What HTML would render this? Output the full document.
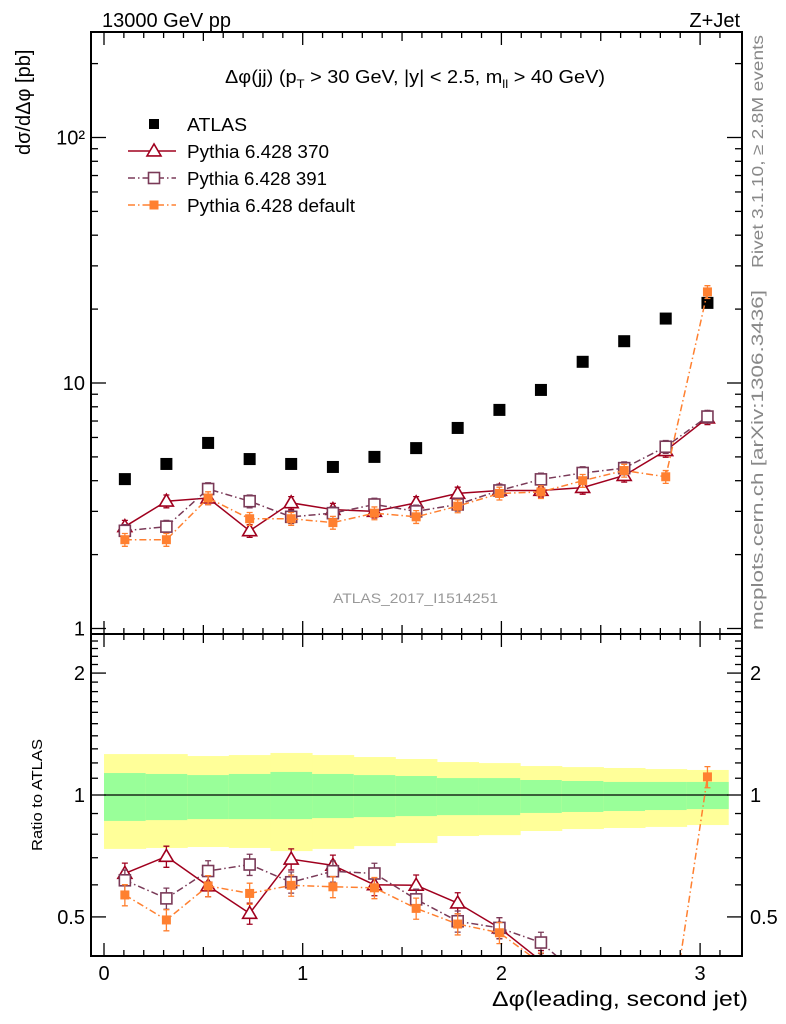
<!DOCTYPE html>
<html><head><meta charset="utf-8">
<style>
html,body{margin:0;padding:0;background:#fff;}
svg{display:block;font-family:"Liberation Sans",sans-serif;}
</style></head>
<body>
<svg id="chart" width="786" height="1024" viewBox="0 0 786 1024" xmlns="http://www.w3.org/2000/svg">
<text x="102" y="27" font-size="20">13000 GeV pp</text>
<text x="740" y="27" font-size="20" text-anchor="end">Z+Jet</text>
<text x="225" y="83" font-size="18" textLength="380" lengthAdjust="spacingAndGlyphs">Δφ(jj) (p<tspan font-size="12" dy="5">T</tspan><tspan dy="-5"> &gt; 30 GeV, |y| &lt; 2.5, m</tspan><tspan font-size="12" dy="5">ll</tspan><tspan dy="-5"> &gt; 40 GeV)</tspan></text>
<text transform="translate(30,155) rotate(-90)" font-size="20">dσ/dΔφ [pb]</text>
<text transform="translate(42,795) rotate(-90)" font-size="15" text-anchor="middle" textLength="112" lengthAdjust="spacingAndGlyphs">Ratio to ATLAS</text>
<text transform="translate(763,268) rotate(-90)" font-size="16" fill="#888" textLength="233" lengthAdjust="spacingAndGlyphs">Rivet 3.1.10, ≥ 2.8M events</text>
<text transform="translate(763,630) rotate(-90)" font-size="17" fill="#888" textLength="340" lengthAdjust="spacingAndGlyphs">mcplots.cern.ch [arXiv:1306.3436]</text>
<text x="333" y="603" font-size="14" fill="#999" textLength="165" lengthAdjust="spacingAndGlyphs">ATLAS_2017_I1514251</text>
<text x="492" y="1006" font-size="21" textLength="256" lengthAdjust="spacingAndGlyphs">Δφ(leading, second jet)</text>
<g id="ratio-bands"></g>
<g id="marks"></g>
<g id="axes"></g>
<g id="legend"></g>
</svg>
<script>
const binCenters = [0.105,0.314,0.524,0.733,0.942,1.152,1.361,1.571,1.780,1.990,2.199,2.409,2.618,2.827,3.037];
const atlasValues = [4.06,4.68,5.7,4.9,4.68,4.55,5.0,5.43,6.56,7.77,9.37,12.2,14.8,18.3,21.2];
const py370Values = [2.6,3.3,3.4,2.5,3.25,3.05,3.0,3.25,3.55,3.65,3.65,3.75,4.2,5.3,7.2];
const py391Values = [2.5,2.6,3.7,3.3,2.85,2.95,3.2,3.0,3.2,3.65,4.05,4.3,4.5,5.5,7.3];
const pyDefValues = [2.3,2.3,3.4,2.8,2.8,2.7,2.95,2.85,3.15,3.55,3.6,4.0,4.4,4.15,23.5];
const totHi = [1.262,1.262,1.248,1.255,1.270,1.255,1.241,1.227,1.206,1.199,1.179,1.172,1.166,1.159,1.153];
const totLo = [0.736,0.740,0.744,0.740,0.727,0.736,0.748,0.761,0.792,0.796,0.815,0.824,0.829,0.834,0.843];
const statHi = [1.133,1.127,1.120,1.127,1.140,1.127,1.120,1.114,1.101,1.101,1.089,1.083,1.077,1.077,1.077];
const statLo = [0.863,0.867,0.872,0.872,0.872,0.877,0.882,0.887,0.892,0.892,0.903,0.908,0.913,0.918,0.923];
const mcRelErr = 0.06;
const xTicks = [0,1,2,3];
const yMainTicks = [1,10,100];
const yMainTickLabels = ["1","10","10²"];
const yRatioTicks = [0.5,1,2];

const NS="http://www.w3.org/2000/svg";
const L=91,R=742,MT=32,MB=634,RT=634,RB=956;
const X=v=>104+v*198.7;
const YM=v=>628.5-Math.log10(v)*245.5;
const YR=v=>795-Math.log10(v)*405;
function mk(parent,tag,attrs){const e=document.createElementNS(NS,tag);for(const k in attrs)e.setAttribute(k,attrs[k]);parent.appendChild(e);return e;}
const bands=document.getElementById('ratio-bands'),marks=document.getElementById('marks'),axes=document.getElementById('axes'),leg=document.getElementById('legend');
const bw=Math.PI/15;
for(let i=0;i<binCenters.length;i++){
  const x0=X(i*bw),x1=X((i+1)*bw);
  const y=mk(bands,'rect',{x:x0,y:YR(totHi[i]),width:x1-x0+0.5,height:YR(totLo[i])-YR(totHi[i]),fill:'#ffff99'});
  
  
  const g=mk(bands,'rect',{x:x0,y:YR(statHi[i]),width:x1-x0+0.5,height:YR(statLo[i])-YR(statHi[i]),fill:'#99ff99'});
  
  
}
const one=mk(bands,'line',{x1:X(0),x2:X(Math.PI),y1:YR(1),y2:YR(1),stroke:'#000','stroke-width':1.2});



const defs=mk(document.getElementById('chart'),'defs',{});
const c1=mk(defs,'clipPath',{id:'cm'});mk(c1,'rect',{x:L,y:MT,width:R-L,height:MB-MT});
const c2=mk(defs,'clipPath',{id:'cr'});mk(c2,'rect',{x:L,y:RT,width:R-L,height:RB-RT});
const gm=mk(marks,'g',{'clip-path':'url(#cm)'}),gr=mk(marks,'g',{'clip-path':'url(#cr)'});

function marker(g,type,x,y,color){
  let e;
  if(type==='tri'){const s=7;e=mk(g,'polygon',{points:`${x},${y-s} ${x-s},${y+s*0.7} ${x+s},${y+s*0.7}`,fill:'#fff',stroke:color,'stroke-width':1.6});}
  else if(type==='osq'){e=mk(g,'rect',{x:x-5.5,y:y-5.5,width:11,height:11,fill:'#fff',stroke:color,'stroke-width':1.6});}
  else if(type==='fsq'){e=mk(g,'rect',{x:x-4.5,y:y-4.5,width:9,height:9,fill:color});}
  else {e=mk(g,'rect',{x:x-6,y:y-6,width:12,height:12,fill:color});}
  return e;
}
const series=[
 {name:'pythia-370',vals:py370Values,color:'#a0001e',type:'tri',dash:''},
 {name:'pythia-391',vals:py391Values,color:'#7a3a58',type:'osq',dash:'7,3,1.5,3'},
 {name:'pythia-default',vals:pyDefValues,color:'#ff8030',type:'fsq',dash:'7,3,1.5,3'}
];
function drawSeries(g,vals,Yf,s,ratio){
  const pts=vals.map((v,i)=>[X(binCenters[i]),Yf(ratio?v/atlasValues[i]:v)]);
  const pl=mk(g,'polyline',{points:pts.map(p=>p.join(',')).join(' '),fill:'none',stroke:s.color,'stroke-width':1.5,'stroke-dasharray':s.dash});
  
  
  vals.forEach((v,i)=>{
    const c=ratio?v/atlasValues[i]:v;
    const x=X(binCenters[i]);
    const eb=mk(g,'path',{d:`M${x},${Yf(c*(1+mcRelErr))}V${Yf(c*(1-mcRelErr))}M${x-3},${Yf(c*(1+mcRelErr))}h6M${x-3},${Yf(c*(1-mcRelErr))}h6`,stroke:s.color,'stroke-width':1.3,fill:'none'});
    
    
    const m=marker(g,s.type,x,Yf(c),s.color);
    
    
  });
}
atlasValues.forEach((v,i)=>{
  const m=marker(gm,'data',X(binCenters[i]),YM(v),'#000');
  
  
});
series.forEach(s=>{drawSeries(gm,s.vals,YM,s,false);drawSeries(gr,s.vals,YR,s,true);});

[[MT,MB],[RT,RB]].forEach(([t,b],k)=>{
  const f=mk(axes,'rect',{x:L,y:t,width:R-L,height:b-t,fill:'none',stroke:'#000','stroke-width':2});
  
  
  for(let j=0;j<=31;j++){
    const v=j*0.1,x=X(v);if(x>R)break;
    const len=(j%10===0)?13:(j%5===0?9:6);
    mk(axes,'line',{x1:x,x2:x,y1:b,y2:b-len,stroke:'#000','stroke-width':1.3});
    mk(axes,'line',{x1:x,x2:x,y1:t,y2:t+len,stroke:'#000','stroke-width':1.3});
  }
});
for(let d=0;d<=2;d++)for(let m=1;m<=9;m++){
  const v=m*Math.pow(10,d),y=YM(v);if(y<MT)continue;
  const len=m===1?15:7;
  mk(axes,'line',{x1:L,x2:L+len,y1:y,y2:y,stroke:'#000','stroke-width':1.3});
  mk(axes,'line',{x1:R,x2:R-len,y1:y,y2:y,stroke:'#000','stroke-width':1.3});
}
yMainTicks.forEach((v,i)=>{
  const t=mk(axes,'text',{x:L-6,y:YM(v)+7,'font-size':20,'text-anchor':'end'});
  t.textContent=yMainTickLabels[i];
  
  
});
for(let j=4;j<=25;j++){
  const v=j/10,y=YR(v);if(y<RT||y>RB)continue;
  const len=(v===0.5||v===1||v===2)?15:7;
  mk(axes,'line',{x1:L,x2:L+len,y1:y,y2:y,stroke:'#000','stroke-width':1.3});
  mk(axes,'line',{x1:R,x2:R-len,y1:y,y2:y,stroke:'#000','stroke-width':1.3});
}
yRatioTicks.forEach(v=>{
  const t=mk(axes,'text',{x:L-6,y:YR(v)+7,'font-size':20,'text-anchor':'end'});t.textContent=String(v);
  
  
  const t2=mk(axes,'text',{x:R+8,y:YR(v)+7,'font-size':20});t2.textContent=String(v);
  
  
});
xTicks.forEach(v=>{
  const t=mk(axes,'text',{x:X(v),y:980,'font-size':20,'text-anchor':'middle'});t.textContent=String(v);
  
  
});
const legLabels=['ATLAS','Pythia 6.428 370','Pythia 6.428 391','Pythia 6.428 default'];
const legWidths=[60,142,140,168];
const legItems=[{type:'data',color:'#000',dash:null},...series.map(s=>({type:s.type,color:s.color,dash:s.dash}))];
legItems.forEach((it,i)=>{
  const y=124+i*27,cx=154;
  const g=mk(leg,'g',{});
  
  
  if(it.dash!==null) mk(g,'line',{x1:128,x2:176,y1:y,y2:y,stroke:it.color,'stroke-width':1.5,'stroke-dasharray':it.dash});
  if(it.type==='data') mk(g,'rect',{x:cx-5,y:y-5,width:10,height:10,fill:'#000'}); else marker(g,it.type,cx,y,it.color);
  const t=mk(g,'text',{x:187,y:y+7,'font-size':18,textLength:legWidths[i],lengthAdjust:'spacingAndGlyphs'});t.textContent=legLabels[i];
});
</script>
</body></html>
